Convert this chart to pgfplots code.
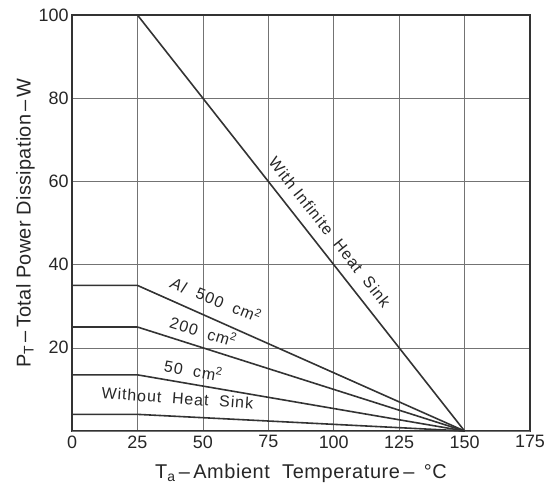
\documentclass[border=0pt]{standalone}
\usepackage{fontspec}
\setmainfont{Liberation Sans}
\usepackage{pgfplots}
\pgfplotsset{compat=1.18}
\begin{document}
\begin{tikzpicture}
\begin{axis}[
  name=ax,
  scale only axis,
  width=458bp, height=416bp,
  xmin=0, xmax=175, ymin=0, ymax=100,
  xtick={0,25,50,75,100,125,150,175},
  ytick={20,40,60,80,100},
  extra y ticks={0}, extra y tick labels={},
  grid=major,
  grid style={black!55, line width=0.6pt},
  axis line style={black!80, line width=1.2pt},
  tick style={draw=none},
  /pgf/number format/assume math mode=true,
  ticklabel style={font=\fontsize{18}{20}\selectfont, text=black!85},
  xticklabel style={yshift=-1bp},
  xlabel={T\textsubscript{a}\,--\,Ambient\ \ Temperature\,--\ \,°C},
  ylabel={P\textsubscript{T}\,--\,Total\ Power\ Dissipation\,--\,W},
  label style={font=\fontsize{20}{22}\selectfont\addfontfeature{LetterSpace=3}, text=black!85},
  ylabel style={font=\fontsize{20}{22}\selectfont\addfontfeature{LetterSpace=1.5}, yshift=-3bp},
  xlabel style={yshift=-9bp},
  clip=false,
]
\addplot[black!80, line width=1.6pt] coordinates {(0,100) (25,100) (150,0)};
\addplot[black!80, line width=1.6pt] coordinates {(0,35) (25,35) (150,0)};
\addplot[black!80, line width=1.6pt] coordinates {(0,25) (25,25) (150,0)};
\addplot[black!80, line width=1.6pt] coordinates {(0,13.5) (25,13.5) (150,0)};
\addplot[black!80, line width=1.6pt] coordinates {(0,4) (25,4) (150,0)};
\begin{scope}[every node/.style={font=\fontsize{16}{18}\selectfont\addfontfeature{LetterSpace=6}, text=black!85}]
\node[rotate=-51.7] at (axis cs:98.5,47.8) {With\ Infinite\ \ Heat\ \ Sink};
\node[rotate=-22] at (axis cs:55.1,31.7) {\textit{Al}\ \ 500\ \ cm\textsuperscript{2}};
\node[rotate=-17] at (axis cs:50.2,24.0) {200\ \ cm\textsuperscript{2}};
\node[rotate=-10] at (axis cs:46.4,14.7) {50\ \ cm\textsuperscript{2}};
\node[rotate=-4] at (axis cs:40.3,7.9) {Without\ \ Heat\ \ Sink};
\end{scope}
\end{axis}
\pgfresetboundingbox
\path[use as bounding box] ([shift={(-72bp,-60bp)}]ax.south west) rectangle ([shift={(22bp,15bp)}]ax.north east);
\end{tikzpicture}
\end{document}
